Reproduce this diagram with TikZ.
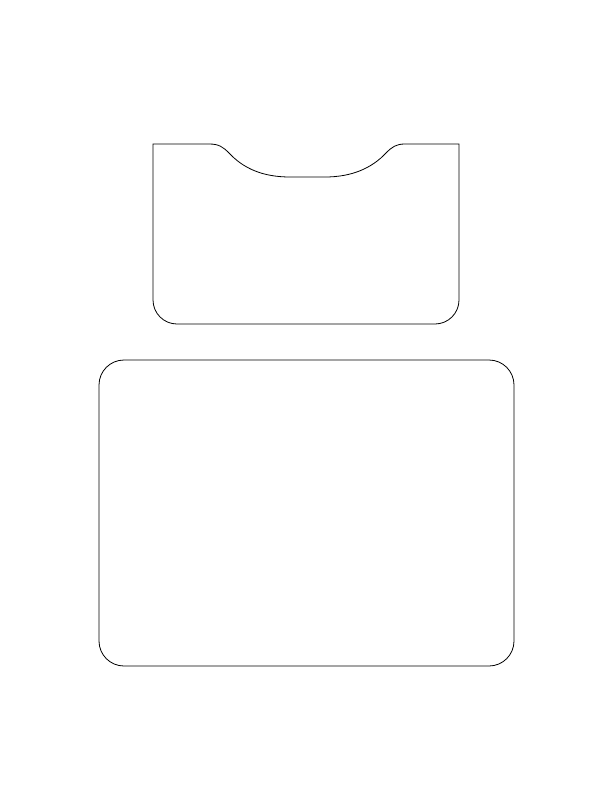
\documentclass[tikz,border=0pt]{standalone}
\begin{document}
\begin{tikzpicture} [x=1pt, y=-1pt, line width=0.8pt]
	\useasboundingbox (0,0) rectangle (612,792);
	% tray with notch
	\draw (153,144) -- (209,144) .. controls (219,144) and (223,147) .. (229,153)
		.. controls (243,168) and (262,177) .. (290,177) -- (325,177)
		.. controls (352,177) and (372,168) .. (386,153)
		.. controls (392,147) and (396,144) .. (405,144) -- (459,144) -- (459,300)
		arc [start angle=0, end angle=90, radius=24] -- (177,324)
		arc [start angle=90, end angle=180, radius=24] -- cycle;
	% base
	\draw [rounded corners=25] (99,360) rectangle (514,666);
\end{tikzpicture}
\end{document}
